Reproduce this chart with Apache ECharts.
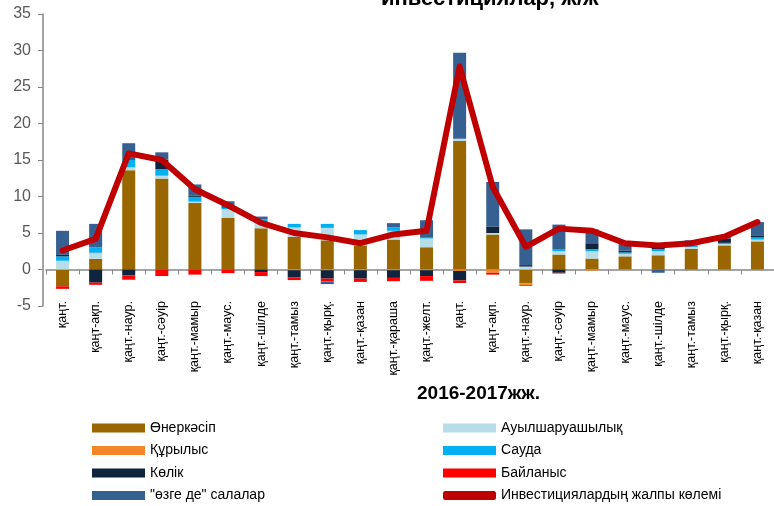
<!DOCTYPE html>
<html>
<head>
<meta charset="utf-8">
<script src="https://cdn.jsdelivr.net/npm/echarts@6/dist/echarts.min.js"></script>
<style>
  html, body { margin: 0; padding: 0; background: #fff; }
  #chart { width: 774px; height: 506px; }
</style>
</head>
<body>
<div id="chart"></div>
<script>
// 2016-2017, cumulative months
const categories = ['қаңт.', 'қаңт-ақп.', 'қаңт.-наур.', 'қаңт.-сәуір', 'қаңт.-мамыр', 'қаңт.-маус.', 'қаңт.-шілде', 'қаңт.-тамыз', 'қаңт.-қырқ.', 'қаңт.-қазан', 'қаңт.-қараша', 'қаңт.-желт.',
  'қаңт.', 'қаңт-ақп.', 'қаңт.-наур.', 'қаңт.-сәуір', 'қаңт.-мамыр', 'қаңт.-маус.', 'қаңт.-шілде', 'қаңт.-тамыз', 'қаңт.-қырқ.', 'қаңт.-қазан']
const industry = [-2.3, 1.45, 13.6, 12.45, 9.1, 7.1, 5.65, 4.45, 4.0, 3.3, 4.1, 3.05, 17.6, 4.8, -1.9, 2.05, 1.5, 1.8, 1.95, 2.85, 3.3, 3.85]
const agriculture = [1.2, 0.75, 0.4, 0.4, 0.2, 1.15, 0.8, 1.3, 1.7, 1.5, 1.2, 1.2, 0.3, 0.2, 0.4, 0.45, 1.0, 0.35, 0.55, 0.25, 0.2, 0.25]
const construction = [0, 0.1, 0, 0, 0, 0, 0, -0.1, -0.1, -0.1, -0.1, -0.1, -0.2, -0.45, -0.25, 0, -0.15, -0.05, 0, 0, 0, 0]
const trade = [0.6, 0.75, 1.0, 0.9, 0.65, 0.2, 0.45, 0.5, 0.55, 0.6, 0.5, 0.1, 0, 0, 0, 0.3, 0.3, 0.2, 0.3, 0.2, 0.15, 0.3]
const transport = [0.2, -1.8, -0.8, 1.3, 0.2, 0.1, -0.35, -1.0, -1.15, -1.15, -1.05, -0.8, -1.3, 0.9, 0.2, -0.45, 0.8, 0.25, 0.2, 0, 0.6, 0.2]
const communication = [-0.35, -0.3, -0.6, -0.9, -0.7, -0.5, -0.55, -0.35, -0.4, -0.45, -0.45, -0.65, -0.35, -0.25, -0.1, -0.1, 0, 0, 0, 0, 0, 0]
const other = [3.3, 3.2, 2.3, 1.0, 1.5, 0.8, 0.35, 0, -0.35, 0, 0.55, 2.4, 11.8, 6.1, 4.9, 3.35, 1.9, 1.0, -0.45, 0.7, 0.3, 1.9]
const total = [2.6, 4.2, 15.9, 15.0, 11.0, 8.8, 6.4, 5.0, 4.4, 3.6, 4.8, 5.3, 27.8, 11.3, 3.1, 5.6, 5.3, 3.6, 3.3, 3.6, 4.5, 6.5]

const font = 'Liberation Sans, Arial, sans-serif'

function bar(name, data, color) {
  return {
    name: name,
    type: 'bar',
    stack: 'all',
    barWidth: 13,
    data: data,
    itemStyle: { color: color },
  }
}

const chart = echarts.init(document.getElementById('chart'))
chart.setOption({
  animation: false,
  textStyle: { fontFamily: font },
  title: [
    {
      text: 'инвестициялар, ж/ж',
      left: 376,
      top: -17,
      textStyle: { fontSize: 22, fontWeight: 'bold', color: '#000' },
    },
    {
      text: '2016-2017жж.',
      left: 412,
      top: 379,
      textStyle: { fontSize: 19, fontWeight: 'bold', color: '#000' },
    },
  ],
  legend: [
    {
      orient: 'vertical',
      left: 92,
      top: 421,
      padding: 0,
      itemWidth: 53,
      itemHeight: 9,
      itemGap: 8.5,
      textStyle: { fontSize: 14, color: '#000' },
      data: [
        { name: 'Өнеркәсіп', icon: 'rect' },
        { name: 'Құрылыс', icon: 'rect' },
        { name: 'Көлік', icon: 'rect' },
        { name: '"өзге де" салалар', icon: 'rect' },
      ],
    },
    {
      orient: 'vertical',
      left: 443,
      top: 421,
      padding: 0,
      itemWidth: 53,
      itemHeight: 9,
      itemGap: 8.5,
      textStyle: { fontSize: 14, color: '#000' },
      data: [
        { name: 'Ауылшаруашылық', icon: 'rect' },
        { name: 'Сауда', icon: 'rect' },
        { name: 'Байланыс', icon: 'rect' },
        { name: 'Инвестициялардың жалпы көлемі', icon: 'roundRect' },
      ],
    },
  ],
  grid: { left: 46, right: -3, top: 14, bottom: 200 },
  xAxis: {
    type: 'category',
    data: categories,
    axisLine: { onZero: true, lineStyle: { color: '#868686', width: 1.5 } },
    axisTick: { show: true, length: 5, lineStyle: { color: '#868686' } },
    axisLabel: { rotate: 90, margin: -5, fontSize: 12.5, color: '#000', interval: 0 },
  },
  yAxis: {
    type: 'value',
    min: -5,
    max: 35,
    interval: 5,
    offset: 3,
    splitLine: { show: false },
    axisLine: { show: true, lineStyle: { color: '#868686', width: 1.5 } },
    axisTick: { show: true, length: 5, lineStyle: { color: '#868686' } },
    axisLabel: { fontSize: 16, color: '#595959', margin: 12 },
  },
  series: [
    bar('Өнеркәсіп', industry, '#996600'),
    bar('Ауылшаруашылық', agriculture, '#B7DEE8'),
    bar('Құрылыс', construction, '#F4862A'),
    bar('Сауда', trade, '#00B0F0'),
    bar('Көлік', transport, '#10243E'),
    bar('Байланыс', communication, '#FF0000'),
    bar('"өзге де" салалар', other, '#376092'),
    {
      name: 'Инвестициялардың жалпы көлемі',
      type: 'line',
      data: total,
      symbol: 'none',
      itemStyle: { color: '#C00000' },
      lineStyle: { color: '#C00000', width: 6, join: 'round', cap: 'round' },
      z: 5,
    },
  ],
})
</script>
</body>
</html>
